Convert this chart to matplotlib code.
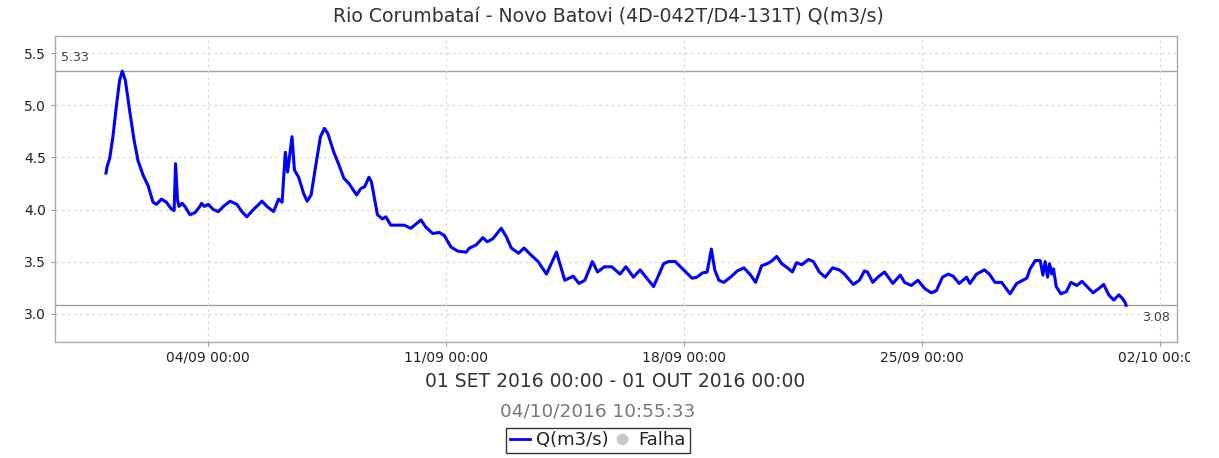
import numpy as np
import pandas as pd
import matplotlib
matplotlib.use("Agg")
import matplotlib.pyplot as plt
import matplotlib.dates as mdates
from matplotlib.lines import Line2D
from matplotlib.transforms import Bbox, TransformedBbox

# vazao horaria (horas desde 01/09/2016 00:00)
horas = [0, 0.9, 2.6, 4.9, 7.3, 9.6, 11.5, 13.7, 16.7, 19.8, 22.6, 26.2, 29.7, 33.2, 35.6,
         39.2, 42.7, 45.8, 48.1, 49.1, 50.5, 51.5, 53.8, 55.7, 59.3, 62.8, 66.3, 67.5, 69.4,
         72.2, 75.8, 79.3, 82.9, 87.6, 92.4, 95.9, 99.4, 104.1, 110.1, 113.6, 118.3, 121.8,
         124.3, 126.6, 128.2, 131.3, 133.0, 136.0, 139.6, 142.0, 144.8, 147.9, 151.4, 154.2,
         156.6, 160.8, 164.4, 167.9, 171.5, 173.9, 176.9, 179.8, 182.6, 185.6, 187.3, 191.6,
         195.1, 197.5, 201.0, 205.8, 210.4, 215.2, 222.3, 225.8, 230.6, 235.3, 238.8, 243.5,
         248.3, 254.2, 256.5, 261.3, 266.0, 269.1, 273.1, 279.0, 282.5, 286.1, 291.2, 295.1,
         300.2, 305.0, 310.9, 318.0, 323.8, 329.8, 333.8, 338.0, 343.3, 347.0, 351.8, 357.0,
         362.8, 367.0, 372.3, 377.0, 381.8, 386.5, 390.1, 393.6, 397.1, 401.8, 407.8, 413.7,
         417.2, 420.8, 424.3, 427.3, 429.7, 432.6, 436.1, 440.8, 445.6, 450.3, 455.0, 458.5,
         462.8, 466.8, 470.3, 473.4, 476.9, 481.0, 484.5, 487.4, 491.1, 495.9, 499.3, 503.5,
         507.7, 512.9, 517.6, 521.2, 527.5, 531.8, 535.3, 537.5, 541.2, 544.8, 549.5, 555.4,
         560.6, 563.7, 568.4, 573.1, 577.9, 582.6, 586.1, 590.4, 594.4, 597.9, 602.2, 607.4,
         609.8, 614.5, 620.0, 623.5, 627.5, 632.2, 638.1, 642.8, 647.1, 649.9, 652.3, 655.9,
         659.4, 661.3, 662.9, 664.6, 666.0, 667.6, 668.8, 670.7, 674.0, 677.8, 681.1, 685.3,
         688.9, 692.4, 696.7, 700.7, 704.2, 707.8, 711.3, 714.9, 717.2, 719.6, 720]
vazao = [4.35, 4.42, 4.49, 4.70, 4.99, 5.24, 5.33, 5.24, 4.95, 4.67, 4.47, 4.33, 4.23, 4.07, 4.05,
         4.10, 4.07, 4.01, 3.99, 4.44, 4.09, 4.03, 4.06, 4.03, 3.95, 3.97, 4.03, 4.06, 4.03,
         4.05, 4.00, 3.98, 4.03, 4.08, 4.05, 3.98, 3.93, 4.00, 4.08, 4.03, 3.98, 4.10,
         4.07, 4.55, 4.36, 4.70, 4.38, 4.31, 4.15, 4.08, 4.14, 4.41, 4.70, 4.78,
         4.73, 4.55, 4.43, 4.30, 4.25, 4.20, 4.14, 4.20, 4.22, 4.31, 4.27, 3.95,
         3.91, 3.93, 3.85, 3.85, 3.85, 3.82, 3.90, 3.83, 3.77, 3.78, 3.75, 3.64,
         3.60, 3.59, 3.63, 3.66, 3.73, 3.69, 3.72, 3.82, 3.74, 3.63, 3.58, 3.63,
         3.56, 3.50, 3.38, 3.59, 3.32, 3.36, 3.29, 3.32, 3.50, 3.40, 3.45, 3.45,
         3.38, 3.45, 3.35, 3.42, 3.34, 3.26, 3.37, 3.48, 3.50, 3.50, 3.42, 3.34,
         3.35, 3.39, 3.40, 3.62, 3.42, 3.32, 3.30, 3.35, 3.41, 3.44, 3.37, 3.30,
         3.46, 3.48, 3.51, 3.55, 3.48, 3.44, 3.40, 3.49, 3.47, 3.52, 3.50, 3.40,
         3.35, 3.44, 3.42, 3.38, 3.28, 3.32, 3.41, 3.40, 3.30, 3.35, 3.40, 3.29,
         3.37, 3.30, 3.27, 3.32, 3.24, 3.20, 3.22, 3.35, 3.38, 3.36, 3.29, 3.35,
         3.29, 3.38, 3.42, 3.38, 3.30, 3.30, 3.19, 3.29, 3.32, 3.34, 3.43, 3.51,
         3.51, 3.37, 3.50, 3.35, 3.48, 3.38, 3.43, 3.26, 3.19, 3.21, 3.30, 3.27,
         3.31, 3.26, 3.20, 3.24, 3.28, 3.18, 3.13, 3.18, 3.15, 3.10, 3.08]

inicio = pd.Timestamp("2016-09-01 00:00")
tempo = inicio + pd.to_timedelta(horas, unit="h")
q = np.array(vazao)

ticks_x = pd.to_datetime(["2016-09-04", "2016-09-11", "2016-09-18", "2016-09-25", "2016-10-02"])
ticks_y = [3.0, 3.5, 4.0, 4.5, 5.0, 5.5]

titulo = "Rio Corumbataí - Novo Batovi (4D-042T/D4-131T) Q(m3/s)"
periodo = "01 SET 2016 00:00 - 01 OUT 2016 00:00"
gerado = "04/10/2016 10:55:33"

plt.rcParams["font.family"] = "DejaVu Sans"

fig = plt.figure(figsize=(12.19, 4.58), dpi=100)
ax = fig.add_axes([0.0451, 0.2539, 0.9205, 0.6681])

ax.plot(tempo, q, color="#0000ff", lw=2.2, solid_joinstyle="round")

# linhas de maximo e minimo
q_max = q.max()
q_min = q.min()
ax.axhline(q_max, color="#a0a0a0", lw=1.0, zorder=1)
ax.axhline(q_min, color="#a0a0a0", lw=1.0, zorder=1)
ax.annotate(f"{q_max:.2f}", xy=(0, q_max), xycoords=("axes fraction", "data"),
            xytext=(4, 5), textcoords="offset points", ha="left", va="bottom",
            fontsize=9, color="#404040")
ax.annotate(f"{q_min:.2f}", xy=(1, q_min), xycoords=("axes fraction", "data"),
            xytext=(-5, -4), textcoords="offset points", ha="right", va="top",
            fontsize=9, color="#404040")

ax.set_xlim(inicio - pd.Timedelta(hours=36), inicio + pd.Timedelta(hours=756))
ax.set_ylim(2.73, 5.67)
ax.set_xticks(ticks_x)
ax.xaxis.set_major_formatter(mdates.DateFormatter("%d/%m %H:%M"))
ax.set_yticks(ticks_y)
ax.set_yticklabels([f"{v:.1f}" for v in ticks_y])

ax.grid(True, color="#d8d8d8", lw=0.8, linestyle=(0, (2.5, 3)))
ax.tick_params(axis="both", labelsize=10, colors="#999999", labelcolor="#222222",
               length=3, width=0.8)
for s in ax.spines.values():
    s.set_color("#aaaaaa")
    s.set_linewidth(1.0)

# o ultimo rotulo do eixo x fica cortado na borda do painel
clip = TransformedBbox(Bbox([[0, 0], [1190 / 1219, 1]]), fig.transFigure)
for lbl in ax.get_xticklabels():
    lbl.set_clip_on(True)
    lbl.set_clip_box(clip)

fig.text(0.4988, 0.963, titulo, ha="center", va="center", fontsize=13.6, color="#333333")
fig.text(0.5045, 0.168, periodo, ha="center", va="center", fontsize=13.5, color="#333333")
fig.text(0.4906, 0.1026, gerado, ha="center", va="center", fontsize=13.3, color="#777777")

handles = [Line2D([], [], color="#0000ff", lw=2.0),
           Line2D([], [], color="#c8c8c8", marker="o", ls="none", markersize=7.5)]
leg = fig.legend(handles, ["Q(m3/s)", "Falha"], loc="center", bbox_to_anchor=(0.4906, 0.039),
                 ncol=2, fontsize=13, frameon=True, fancybox=False, handlelength=1.1,
                 handletextpad=0.35, columnspacing=0.2, borderpad=0.2, borderaxespad=0)
leg.get_frame().set_edgecolor("#000000")
leg.get_frame().set_linewidth(1.0)
for t in leg.get_texts():
    t.set_color("#222222")

fig.savefig("out.png", dpi=100)
